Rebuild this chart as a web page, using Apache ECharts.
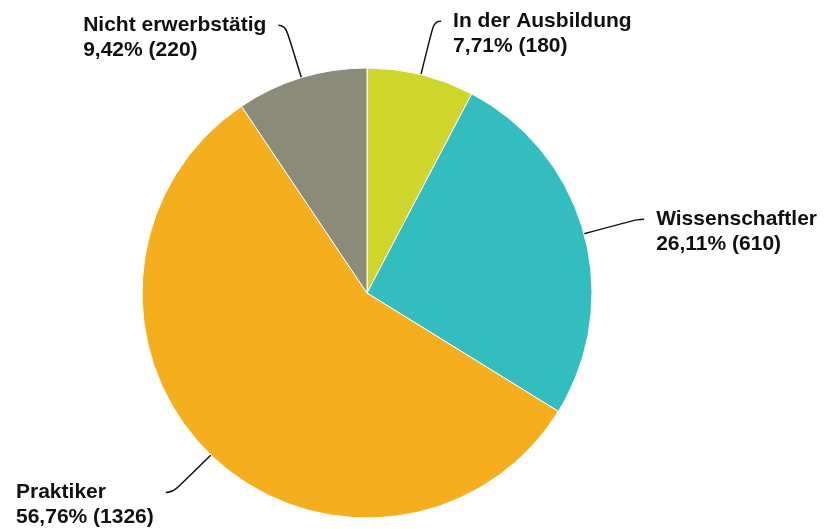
<!DOCTYPE html>
<html>
<head>
<meta charset="utf-8">
<style>
  html, body { margin: 0; padding: 0; background: #fff; }
  #pie-chart { width: 824px; height: 529px; }
</style>
<script src="https://cdn.jsdelivr.net/npm/echarts@6/dist/echarts.min.js"></script>
</head>
<body>
<div id="pie-chart"></div>
<script>
/*数据*/
var names = ["In der Ausbildung", "Wissenschaftler", "Praktiker", "Nicht erwerbstätig"];
var counts = [180, 610, 1326, 220];
var colors = ["#cfd52b", "#33bdbf", "#f5ae1e", "#8b8b7a"];

var pieData = [];
for (var i = 0; i < names.length; i++) {
    pieData.push({ name: names[i], value: counts[i], itemStyle: { color: colors[i] } });
}

/*饼图配置*/
var pie = echarts.init(document.getElementById('pie-chart'));
pie.setOption({
    animation: false,
    series: [
        {
            type: 'pie',
            center: [367, 293],
            radius: 225,
            startAngle: 90,
            clockwise: true,
            data: pieData,
            itemStyle: {
                borderColor: '#ffffff',
                borderWidth: 1
            },
            label: {
                show: true,
                position: 'outside',
                overflow: 'none',
                distanceToLabelLine: 12,
                padding: [25, 0, 0, 0],
                formatter: function (p) {
                    var pct = p.percent.toFixed(2).replace('.', ',');
                    return '{a|' + p.name + '}\n{a|' + pct + '% (' + p.value + ')}';
                },
                rich: {
                    a: {
                        align: 'left',
                        fontFamily: '"Liberation Sans", Arial, sans-serif',
                        fontWeight: 'bold',
                        fontSize: 21,
                        lineHeight: 25,
                        color: '#111111'
                    }
                }
            },
            labelLine: {
                show: true,
                length: 55,
                length2: 7,
                smooth: 0.6,
                lineStyle: {
                    color: '#111111',
                    width: 1.5
                }
            }
        }
    ]
});
</script>
</body>
</html>
